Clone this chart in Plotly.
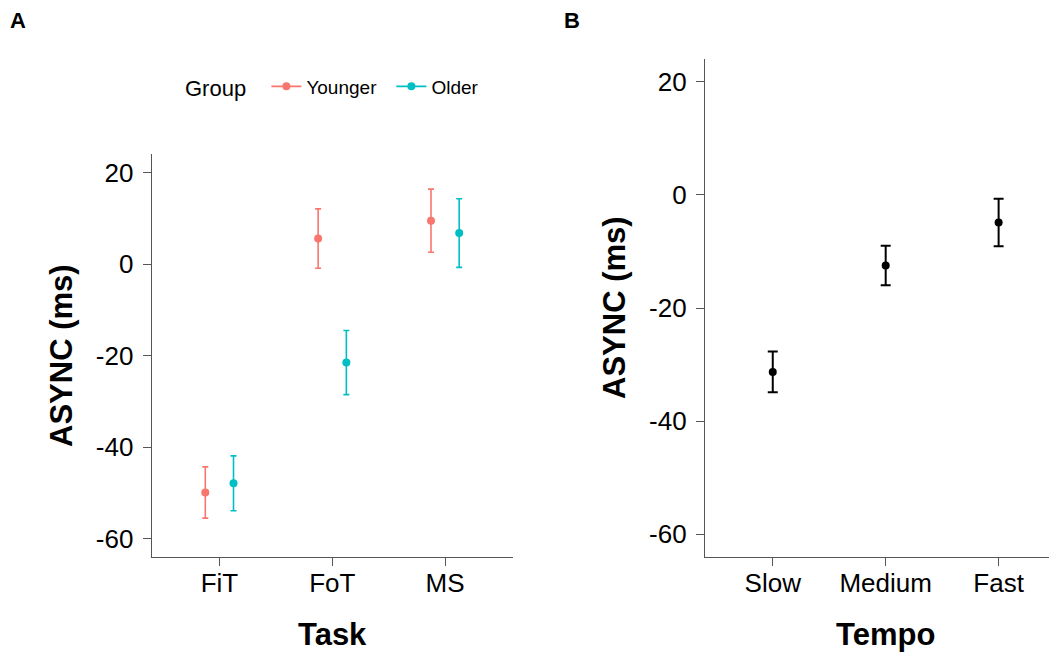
import plotly.graph_objects as go

# ---- data ----
tasks = ["FiT", "FoT", "MS"]
groups = ["Younger", "Older"]
younger_mean = [-49.9, 5.6, 9.5]
younger_err = [5.6, 6.5, 6.9]
older_mean = [-47.9, -21.5, 6.8]
older_err = [6.0, 7.0, 7.5]

tempos = ["Slow", "Medium", "Fast"]
tempo_mean = [-31.3, -12.5, -4.9]
tempo_err = [3.6, 3.5, 4.2]

y_ticks = [20, 0, -20, -40, -60]

# ---- style ----
PAGE_W, PAGE_H = 1057, 652
OFF = 8  # default body margin of the html page
W, H = PAGE_W - OFF, PAGE_H - OFF
FONT = "Liberation Sans, Arial, sans-serif"
COL = {"Younger": "#F8766D", "Older": "#00BFC4"}
AXC = "#555555"
dodge = 0.125

fig = go.Figure()

series = {"Younger": (younger_mean, younger_err, -dodge),
          "Older": (older_mean, older_err, dodge)}
for g in groups:
    m, e, off = series[g]
    fig.add_trace(go.Scatter(
        x=[i + off for i in range(len(tasks))], y=m,
        mode="markers", marker=dict(color=COL[g], size=8),
        error_y=dict(type="data", array=e, color=COL[g], thickness=1.6, width=3),
        xaxis="x", yaxis="y", showlegend=False))
    # legend key
    fig.add_trace(go.Scatter(
        x=[None], y=[None], mode="lines+markers", name=g,
        line=dict(color=COL[g], width=1.6), marker=dict(color=COL[g], size=8),
        xaxis="x", yaxis="y", showlegend=True))

fig.add_trace(go.Scatter(
    x=list(range(len(tempos))), y=tempo_mean, mode="markers",
    marker=dict(color="black", size=8),
    error_y=dict(type="data", array=tempo_err, color="black", thickness=2, width=5),
    xaxis="x2", yaxis="y2", showlegend=False))


def px_x(v):
    return (v - OFF) / W


def px_y(v):
    return (H - (v - OFF)) / H


yax_common = dict(range=[-64, 24], tickvals=y_ticks, ticktext=[str(t) for t in y_ticks],
                  showgrid=False, zeroline=False, showline=True, linecolor=AXC, linewidth=1.3,
                  ticks="outside", ticklen=8, tickcolor=AXC, tickwidth=1.3,
                  tickfont=dict(family=FONT, size=26, color="black"), ticklabelstandoff=4)
xax_common = dict(showgrid=False, zeroline=False, showline=True, linecolor=AXC, linewidth=1.3,
                  ticks="outside", ticklen=8, tickcolor=AXC, tickwidth=1.3,
                  tickfont=dict(family=FONT, size=26, color="black"), ticklabelstandoff=-5)

fig.update_layout(
    width=W, height=H, autosize=False,
    margin=dict(l=0, r=0, t=0, b=0),
    paper_bgcolor="white", plot_bgcolor="white",
    xaxis=dict(domain=[px_x(151.7), px_x(512.8)], range=[-0.6, 2.6],
               tickvals=list(range(len(tasks))), ticktext=tasks, anchor="y", **xax_common),
    yaxis=dict(domain=[px_y(557), px_y(154.4)], anchor="x", **yax_common),
    xaxis2=dict(domain=[px_x(705), 1.0], range=[-0.6, 2.517],
                tickvals=list(range(len(tempos))), ticktext=tempos, anchor="y2", **xax_common),
    yaxis2=dict(domain=[px_y(557), px_y(59)], anchor="x2", **yax_common),
    legend=dict(orientation="h", x=px_x(183), y=px_y(87), xanchor="left", yanchor="middle",
                title=dict(text="Group\u00a0\u00a0", font=dict(family=FONT, size=22, color="black")),
                font=dict(family=FONT, size=19, color="black"),
                bgcolor="rgba(0,0,0,0)", itemwidth=30,
                entrywidth=80, entrywidthmode="pixels"),
    showlegend=True,
)

ann = [
    dict(text="<b>A</b>", x=px_x(18), y=px_y(20.5), size=22, angle=0),
    dict(text="<b>B</b>", x=px_x(572), y=px_y(20.5), size=22, angle=0),
    dict(text="<b>ASYNC (ms)</b>", x=px_x(61), y=px_y(356), size=31, angle=-90),
    dict(text="<b>ASYNC (ms)</b>", x=px_x(614), y=px_y(308), size=31, angle=-90),
    dict(text="<b>Task</b>", x=px_x(332), y=px_y(634), size=31, angle=0),
    dict(text="<b>Tempo</b>", x=px_x(885.5), y=px_y(634), size=31, angle=0),
]
for a in ann:
    fig.add_annotation(text=a["text"], x=a["x"], y=a["y"], xref="paper", yref="paper",
                       xanchor="center", yanchor="middle", showarrow=False, textangle=a["angle"],
                       font=dict(family=FONT, size=a["size"], color="black"))

fig.write_html("out.html")
